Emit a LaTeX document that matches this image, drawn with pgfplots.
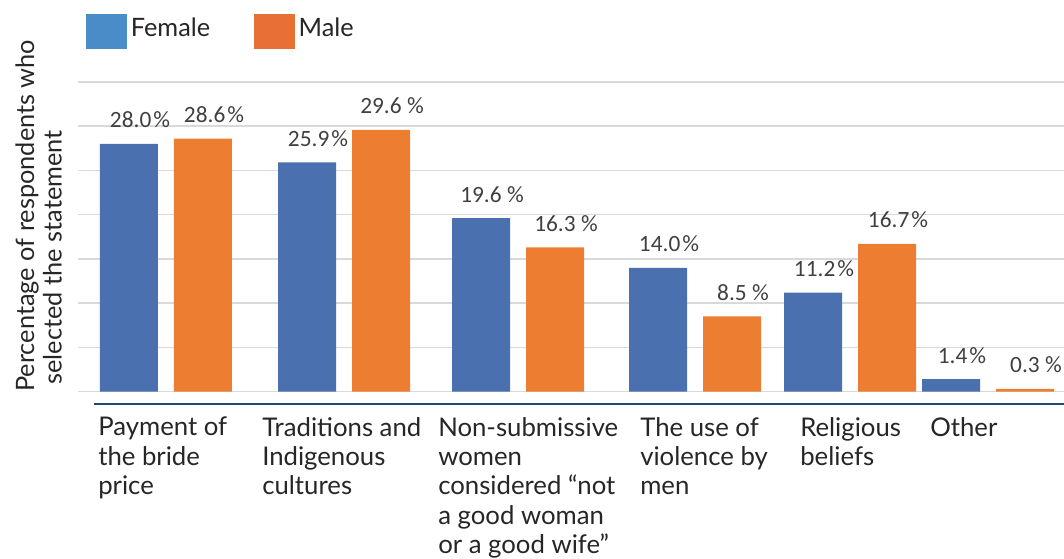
\documentclass[border=0pt]{standalone}
\usepackage{fontspec}
\setmainfont{Lato}
\newfontfamily\valuefont{Carlito}
\usepackage{pgfplots}
\pgfplotsset{compat=1.18}
\usepackage{pgfplotstable}

\definecolor{femalebar}{RGB}{74,112,176}
\definecolor{malebar}{RGB}{237,125,49}
\definecolor{femalekey}{RGB}{74,140,200}
\definecolor{malekey}{RGB}{232,112,52}
\definecolor{gridgray}{RGB}{217,217,217}
\definecolor{axisblue}{RGB}{30,74,106}
\definecolor{valuegray}{RGB}{64,64,64}
\definecolor{textdark}{RGB}{38,38,38}

% bar centre, share in percent, gap before the percent sign (pt)
\pgfplotstableread{
x    y    gap
129  28.0 1.5
307  25.9 1.5
481  19.6 4
658  14.0 1.5
813  11.2 1.5
951  1.4  1.5
}\female
\pgfplotstableread{
x    y    gap
203  28.6 1.5
381  29.6 4
555  16.3 4
732  8.5  4
887  16.7 1.5
1025 0.3  4
}\male

\pgfplotsset{
  valuebars/.style={
    ybar, bar width=58, bar shift=0pt, draw=none, forget plot,
    point meta=y,
    visualization depends on={\thisrow{gap} \as \gapw},
    nodes near coords={\pgfmathprintnumber[assume math mode=true,fixed,fixed zerofill,precision=1]{\pgfplotspointmeta}\hspace{\gapw pt}\%},
    nodes near coords style={anchor=base, xshift=8.25pt, yshift=12pt,
      inner sep=0pt, text=valuegray, font=\valuefont\fontsize{17.5}{20}\selectfont},
  },
}

\begin{document}
\begin{tikzpicture}
\path[use as bounding box] (-58.5pt,-116.25pt) rectangle (739.5pt,303pt);
\begin{axis}[
  at={(0pt,0pt)}, anchor=south west,
  width=739.5pt, height=241.5pt, scale only axis,
  xmin=78, xmax=1064, ymin=-1.4, ymax=35,
  clip=false,
  axis line style={draw=none},
  tick style={draw=none},
  ytick={0,5,...,35}, yticklabels={},
  ymajorgrids, grid style={gridgray, line width=1.1pt},
  xtick={98,262,438,640,800,930},
  xticklabels={
    {Payment of\\the bride\\price},
    {Traditions and\\Indigenous\\cultures},
    {Non-submissive\\women\\considered “not\\a good woman\\or a good wife”},
    {The use of\\violence by\\men},
    {Religious\\beliefs},
    {Other}},
  xticklabel style={anchor=north west, align=left, inner sep=0pt,
    yshift=-9.75pt, text=textdark, font=\fontsize{19.3}{22}\selectfont},
  ylabel={Percentage of respondents who\\\hspace*{5.5pt}selected the statement},
  ylabel style={at={(axis description cs:-0.0162,0.0373)}, anchor=south west,
    align=left, inner sep=0pt, text=textdark,
    font=\fontsize{19}{20.5}\selectfont},
  legend style={at={(axis description cs:0.0081,1.211)}, anchor=north west,
    draw=none, fill=none, inner sep=0pt, legend columns=2,
    text=textdark, font=\fontsize{19}{22}\selectfont,
    nodes={inner sep=0pt},
    /tikz/every odd column/.append style={column sep=3pt},
    /tikz/every even column/.append style={column sep=33pt}},
  legend cell align=left,
]
\addplot[valuebars, fill=femalebar] table[x=x, y=y] {\female};
\addplot[valuebars, fill=malebar] table[x=x, y=y] {\male};

\addlegendimage{legend image code/.code={\fill[femalekey] (0pt,-15pt) rectangle (30pt,10.5pt);}}
\addlegendentry{Female}
\addlegendimage{legend image code/.code={\fill[malekey] (0pt,-15pt) rectangle (30pt,10.5pt);}}
\addlegendentry{Male}

\draw[axisblue, line width=2pt] (axis cs:94,-1.4) -- (axis cs:1064,-1.4);
\end{axis}
\end{tikzpicture}
\end{document}
